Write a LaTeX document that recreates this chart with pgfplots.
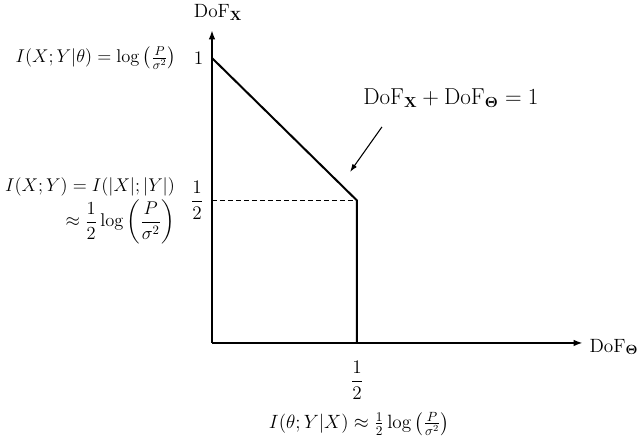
\documentclass[border=0pt]{standalone}
\usepackage{pgfplots}
\pgfplotsset{compat=1.18}
\usetikzlibrary{arrows.meta}
\usepackage{amsmath}
\usepackage{graphicx}
\begin{document}
\begin{tikzpicture}[font=\fontsize{14}{17}\selectfont]
\begin{axis}[
  x=217.5pt, y=213.75pt,
  xmin=0, xmax=1.279, ymin=0, ymax=1.098,
  axis lines=left,
  axis line style={line width=1.4pt, -{Latex[length=7pt,width=5pt]}},
  xtick={0.5}, xticklabels={$\dfrac{1}{2}$},
  ytick={0.5,1}, yticklabels={$\dfrac{1}{2}$,$1$},
  major tick length=0pt,
  xticklabel style={yshift=-10pt},
  yticklabel style={xshift=-3pt},
  clip=false,
]
  % DoF region boundary
  \addplot[line width=1.5pt, black] coordinates {(0,1) (0.5,0.5) (0.5,0)};
  \addplot[line width=0.9pt, black, dash pattern=on 3.5pt off 2.5pt] coordinates {(0,0.5) (0.5,0.5)};

  % axis labels
  \node[font=\fontsize{14.5}{17}\selectfont] at (axis cs:0.021,1.159) {$\mathrm{DoF}_{\mathbf{X}}$};
  \node[font=\fontsize{14.5}{17}\selectfont] at (axis cs:1.386,-0.014) {$\mathrm{DoF}_{\mathbf{\Theta}}$};

  % side annotations
  \begin{scope}[every node/.style={anchor=east, inner sep=0pt}]
  \node at (axis cs:-0.122,1.0) {\scalebox{0.96}{$I(X;Y|\theta)=\log\left(\frac{P}{\sigma^2}\right)$}};
  \node at (axis cs:-0.127,0.548) {\scalebox{0.96}{$I(X;Y)=I(|X|;|Y|)$}};
  \node at (axis cs:-0.127,0.424) {\scalebox{0.96}{$\displaystyle\approx\frac{1}{2}\log\left(\frac{P}{\sigma^2}\right)$}};
  \end{scope}
  \node at (axis cs:0.508,-0.283) {$I(\theta;Y|X)\approx\frac{1}{2}\log\left(\frac{P}{\sigma^2}\right)$};

  \node[font=\fontsize{16}{19}\selectfont] at (axis cs:0.824,0.860) {$\mathrm{DoF}_{\mathbf{X}}+\mathrm{DoF}_{\mathbf{\Theta}}=1$};
  \draw[line width=0.8pt, -{Latex[length=6pt,width=4pt]}] (axis cs:0.586,0.758) -- (axis cs:0.476,0.600);

  \coordinate (bbsw) at (axis cs:-0.731,-0.3368);
  \coordinate (bbne) at (axis cs:1.476,1.2035);
\end{axis}
\pgfresetboundingbox
\useasboundingbox (bbsw) rectangle (bbne);
\end{tikzpicture}
\end{document}
